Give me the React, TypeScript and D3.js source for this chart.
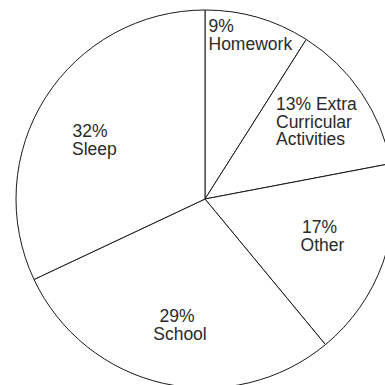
import React from "react";
import * as d3 from "d3";

const categories = ["Homework", "Extra Curricular Activities", "Other", "School", "Sleep"];
const values = [9, 13, 17, 29, 32];
const labelLines = [
  ["9%", "Homework"],
  ["13% Extra", "Curricular", "Activities"],
  ["17%", "Other"],
  ["29%", "School"],
  ["32%", "Sleep"],
];
// label layout (anchor, x, first baseline) relative to page
const labelLayout = [
  { anchor: "start", x: 208.5, y: 32, dx: [0, 0] },
  { anchor: "start", x: 276, y: 110, dx: [0, 0, 0] },
  { anchor: "middle", x: 321, y: 233, dx: [-1.5, 1.5] },
  { anchor: "middle", x: 178.5, y: 322, dx: [-1.5, 1.5] },
  { anchor: "start", x: 72, y: 137, dx: [0.5, 0] },
];

const W = 385;
const H = 385;
const CX = 205;
const CY = 199;
const R = 189;
const LINE = 17.5;

export default function App() {
  const data = categories.map((c, i) => ({ name: c, value: values[i] }));
  const pie = d3
    .pie<any>()
    .sort(null)
    .value((d: any) => d.value)
    .startAngle(0)
    .endAngle(2 * Math.PI);
  const arcs = pie(data);
  const arc = d3.arc<any>().innerRadius(0).outerRadius(R);

  return (
    <svg
      width={W}
      height={H}
      style={{ position: "absolute", left: 0, top: 0, background: "#fff" }}
    >
      <rect x={0} y={0} width={W} height={H} fill="#fff" />
      <g transform={`translate(${CX},${CY})`}>
        {arcs.map((a, i) => (
          <path
            key={i}
            d={arc(a) as string}
            fill="#fff"
            stroke="#1a1a1a"
            strokeWidth={1}
            strokeLinejoin="round"
          />
        ))}
      </g>
      {labelLines.map((lines, i) => {
        const L = labelLayout[i];
        return (
          <text
            key={i}
            fontFamily="'Liberation Sans', Arial, Helvetica, sans-serif"
            fontSize={17.5}
            fill="#2a2a2a"
            textAnchor={L.anchor as any}
          >
            {lines.map((t, j) => (
              <tspan key={j} x={L.x + (L.dx[j] || 0)} y={L.y + j * LINE}>
                {t}
              </tspan>
            ))}
          </text>
        );
      })}
    </svg>
  );
}
